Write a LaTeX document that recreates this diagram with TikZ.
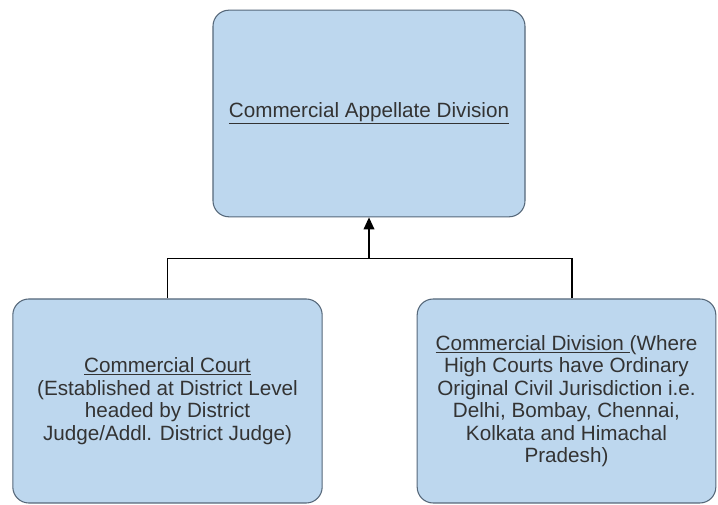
\documentclass[tikz,border=0pt]{standalone}
\usepackage{fontspec}
\setmainfont{Liberation Sans}
\usetikzlibrary{arrows.meta}
\definecolor{boxfill}{HTML}{BDD7EE}
\definecolor{boxdraw}{HTML}{56687A}
\definecolor{txt}{HTML}{333333}
\tikzset{
  court/.style={draw=boxdraw, line width=0.8pt, fill=boxfill, rounded corners=12pt,
    inner sep=0pt, align=center, text=txt,
    font=\fontsize{15.5}{16.9}\selectfont},
  link/.style={draw=black, line width=1.1pt},
}
\begin{document}
\begin{tikzpicture}[x=0.75pt,y=-0.75pt]
\useasboundingbox[fill=white] (0,0) rectangle (718,505);
\node[court, minimum width=234pt, minimum height=155pt] (t) at (369,113.5)
  {\underline{Commercial Appellate Division}};
\node[court, minimum width=232pt, minimum height=153pt] (l) at (167.5,401)
  {\underline{Commercial Court}\\(Established at District Level\\headed by District\\Judge/Addl. District Judge)};
\node[court, minimum width=224pt, minimum height=153pt] (r) at (566.5,401)
  {\underline{Commercial Division\ }(Where\\High Courts have Ordinary\\Original Civil Jurisdiction i.e.\\Delhi, Bombay, Chennai,\\Kolkata and Himachal\\Pradesh)};
\coordinate (j) at (369,258.5);
\draw[link] (l.north) |- (j);
\draw[link] ([xshift=4pt]r.north) |- (j);
\draw[link, -{Triangle[width=8pt,length=9pt]}] (j) -- (t.south);
\end{tikzpicture}
\end{document}
